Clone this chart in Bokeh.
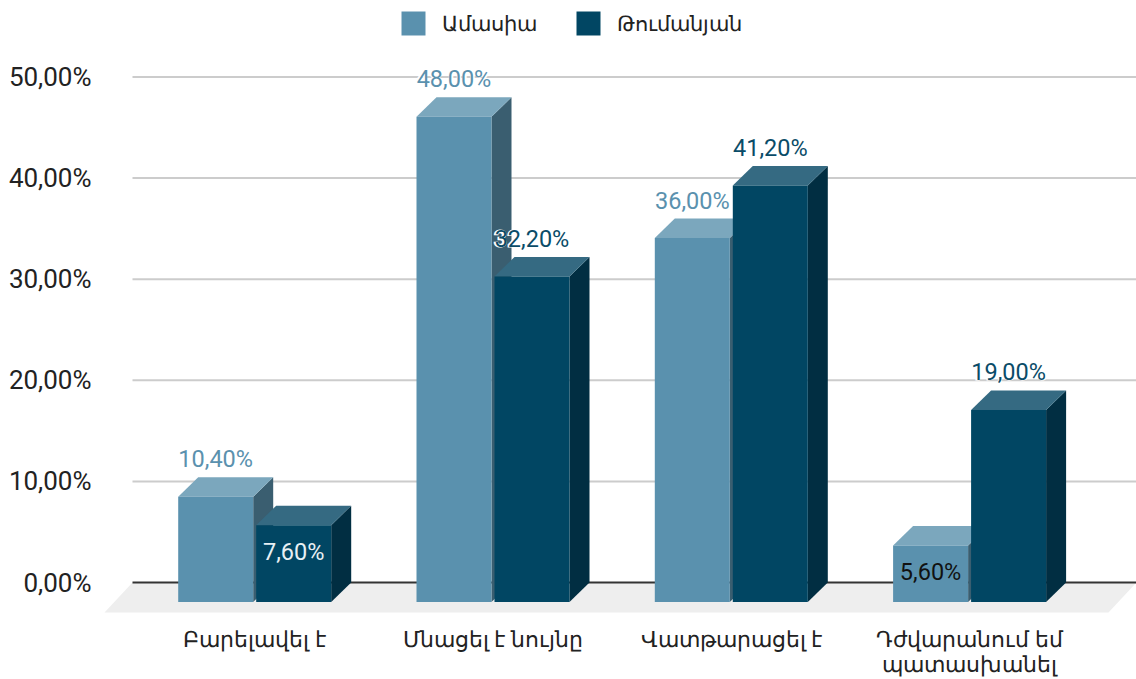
from bokeh.plotting import figure
from bokeh.embed import file_html
from bokeh.resources import INLINE
from bokeh.models import Range1d, FixedTicker, Legend, LegendItem
from bokeh.core.properties import value

categories = ["Բարելավել է", "Մնացել է նույնը", "Վատթարացել է", "Դժվարանում եմ\nպատասխանել"]
series_names = ["Ամասիա", "Թումանյան"]
amasia = [10.4, 48.0, 36.0, 5.6]
tumanyan = [7.6, 32.2, 41.2, 19.0]
y_ticks = [0, 10, 20, 30, 40, 50]
y_labels = ["0,00%", "10,00%", "20,00%", "30,00%", "40,00%", "50,00%"]

W, H = 1136, 679
PX_X = 238.3          # px per category
PX_Y = 10.11          # px per percent
X0, Y0 = 254.2, 582   # page px of category 0 / value 0
FRAME_L, FRAME_B = 96, 616

def dx(px): return px / PX_X
def dy(px): return px / PX_Y
def xval(page_px): return (page_px - X0) / PX_X
def yval(page_px): return (Y0 - page_px) / PX_Y

p = figure(width=W, height=H, output_backend="svg", toolbar_location=None,
           x_range=Range1d(xval(FRAME_L), xval(W)),
           y_range=Range1d(yval(FRAME_B), yval(0)),
           min_border_left=FRAME_L, min_border_right=0, min_border_top=0,
           min_border_bottom=H - FRAME_B, outline_line_color=None,
           background_fill_color="white", border_fill_color="white")
p.grid.visible = False

# axes
p.yaxis.ticker = FixedTicker(ticks=y_ticks)
p.yaxis.major_label_overrides = dict(zip(y_ticks, y_labels))
p.xaxis.ticker = FixedTicker(ticks=list(range(len(categories))))
p.xaxis.major_label_overrides = dict(enumerate(categories))
for ax in (p.xaxis[0], p.yaxis[0]):
    ax.axis_line_color = None
    ax.major_tick_line_color = None
    ax.minor_tick_line_color = None
    ax.major_tick_in = 0
    ax.major_tick_out = 0
    ax.minor_tick_in = 0
    ax.minor_tick_out = 0
    ax.major_label_text_font = "Roboto"
    ax.major_label_text_color = "#222222"
p.yaxis.major_label_text_font_size = "26px"
p.xaxis.major_label_text_font_size = "22px"
p.xaxis.major_label_text_line_height = 1.0
p.yaxis.major_label_standoff = 5
p.xaxis.major_label_standoff = 10

# floor
fl, fr = xval(132), xval(W)
fs = dx(28)
p.patch([fl, fr, fr - fs, fl - fs], [0, 0, -dy(30), -dy(30)], fill_color="#eeeeee", line_color=None)

# gridlines
grid_vals = y_ticks[1:]
p.segment(x0=[fl] * len(grid_vals), x1=[fr] * len(grid_vals), y0=grid_vals, y1=grid_vals,
          line_color="#cccccc", line_width=2)
p.segment(x0=[fl], x1=[fr], y0=[0], y1=[0], line_color="#333333", line_width=2)

# 3D bars
BW, GAP, DX, DY = dx(75), dx(3), dx(20), dy(19.5)

def bars(vals, center_off, front, top, side):
    xs = [i + center_off for i in range(len(vals))]
    L = [x - BW / 2 for x in xs]
    R = [x + BW / 2 for x in xs]
    p.patches([[r, r + DX, r + DX, r] for r in R],
              [[v - DY, v, 0, -DY] for v in vals], fill_color=side, line_color=None)
    p.patches([[l, r, r + DX, l + DX] for l, r in zip(L, R)],
              [[v - DY, v - DY, v, v] for v in vals], fill_color=top, line_color=None)
    return p.quad(left=L, right=R, top=[v - DY for v in vals], bottom=[-DY] * len(vals),
                  fill_color=front, line_color=None), xs

off = (BW + GAP) / 2
r1, xs1 = bars(amasia, -off, "#5a91ae", "#7ba7bd", "#3a5e70")
r2, xs2 = bars(tumanyan, off, "#014663", "#356a82", "#012e42")

# data labels
def fmt(v): return f"{v:.2f}".replace(".", ",") + "%"
LABEL_SIZE = "23.5px"

def labels(vals, xs, color, inside_color):
    out = [(x, v) for x, v in zip(xs, vals) if v >= 10]
    ins = [(x, v) for x, v in zip(xs, vals) if v < 10]
    ox, oy, ot = [x for x, _ in out], [v for _, v in out], [fmt(v) for _, v in out]
    p.text(ox, oy, text=ot, text_font=value("Roboto"), text_font_size=LABEL_SIZE,
           text_font_style="bold", text_color="white", text_align="center",
           text_baseline="middle", y_offset=-18, text_outline_color="white")
    p.text(ox, oy, text=ot, text_font=value("Roboto"), text_font_size=LABEL_SIZE,
           text_color=color, text_align="center", text_baseline="middle", y_offset=-18)
    p.text([x for x, _ in ins], [v for _, v in ins], text=[fmt(v) for _, v in ins],
           text_font=value("Roboto"), text_font_size=LABEL_SIZE, text_color=inside_color,
           text_align="center", text_baseline="middle", y_offset=46)

labels(amasia, xs1, "#5a91ae", "#111111")
labels(tumanyan, xs2, "#0a4c68", "#e8f0f4")

# legend
legend = Legend(items=[LegendItem(label=series_names[0], renderers=[r1]),
                       LegendItem(label=series_names[1], renderers=[r2])],
                orientation="horizontal", glyph_width=30, glyph_height=30,
                label_standoff=14, spacing=36, padding=0, margin=0,
                border_line_color=None, background_fill_alpha=0,
                label_text_font="Roboto", label_text_font_size="21.3px",
                label_text_color="#222222",
                location=(398 - FRAME_L, FRAME_B - 38))
p.add_layout(legend)

open("out.html", "w").write(file_html(p, INLINE))
